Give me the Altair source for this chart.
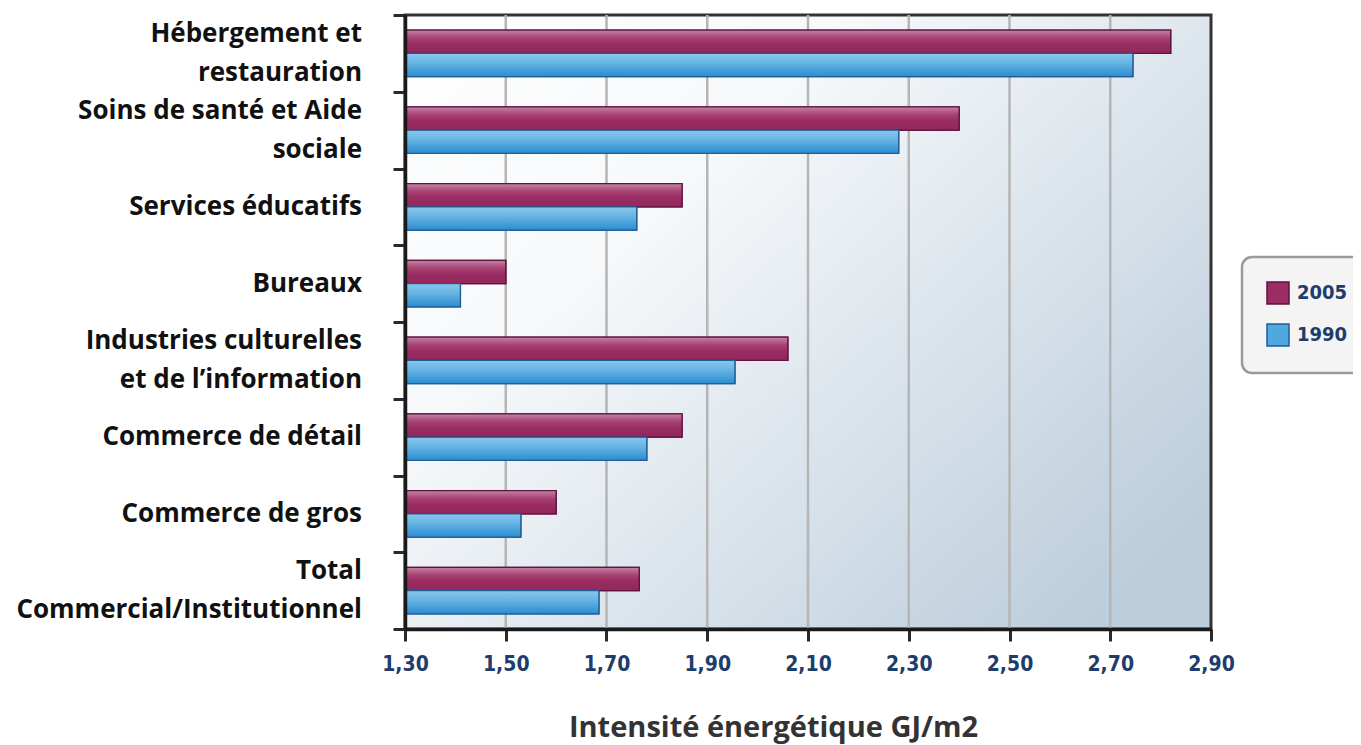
import altair as alt
import pandas as pd

categories = [
    "Hébergement et\nrestauration",
    "Soins de santé et Aide\nsociale",
    "Services éducatifs",
    "Bureaux",
    "Industries culturelles\net de l’information",
    "Commerce de détail",
    "Commerce de gros",
    "Total\nCommercial/Institutionnel",
]
years = ["2005", "1990"]
values_2005 = [2.82, 2.40, 1.85, 1.50, 2.06, 1.85, 1.60, 1.765]
values_1990 = [2.745, 2.28, 1.76, 1.41, 1.955, 1.78, 1.53, 1.685]
x_ticks = [1.30, 1.50, 1.70, 1.90, 2.10, 2.30, 2.50, 2.70, 2.90]
axis_title = "Intensité énergétique GJ/m2"

rows = []
for c, a, b in zip(categories, values_2005, values_1990):
    rows.append({"categorie": c, "annee": "2005", "valeur": a})
    rows.append({"categorie": c, "annee": "1990", "valeur": b})
df = pd.DataFrame(rows)
cat_df = pd.DataFrame({"categorie": categories})
grid_df = pd.DataFrame({"valeur": x_ticks[1:-1]})
bg_df = pd.DataFrame({"k": [0]})

W, H = 806, 614
TICK_FONT = "Liberation Sans Narrow, DejaVu Sans Condensed, Roboto, sans-serif"
BLUE_TXT = "#1f3d6b"

x_scale = alt.Scale(domain=[1.3, 2.9], nice=False, zero=False)
x_axis = alt.Axis(
    values=x_ticks,
    labelExpr="replace(format(datum.value, '.2f'), '.', ',')",
    grid=False, tickSize=12, tickWidth=3, tickColor="#2a2a2a",
    domainColor="#1a1a1a", domainWidth=3.5,
    labelFont=TICK_FONT, labelFontSize=21, labelFontWeight="bold",
    labelColor=BLUE_TXT, labelPadding=12, labelFlush=False, labelOverlap=False,
    title=axis_title, titleFont="Open Sans", titleFontSize=29,
    titleFontWeight="bold", titleColor="#333333",
    titleX=368, titleY=98, titleBaseline="middle", titleAlign="center",
    zindex=1,
)
x_enc = alt.X("valeur:Q", scale=x_scale, axis=x_axis, stack=None)

y_enc = alt.Y(
    "categorie:N", sort=categories,
    scale=alt.Scale(domain=categories, paddingInner=0, paddingOuter=0),
    axis=alt.Axis(
        title=None, tickBand="extent", tickSize=12, tickWidth=3,
        tickColor="#2a2a2a", domainColor="#1a1a1a", domainWidth=3.5,
        labels=False, grid=False, zindex=1,
    ),
)
yoff_enc = alt.YOffset(
    "annee:N", sort=years,
    scale=alt.Scale(domain=years, paddingInner=0, paddingOuter=0.645),
)

bg_grad = alt.LinearGradient(
    gradient="linear", x1=0, y1=0, x2=1, y2=0.8,
    stops=[
        alt.GradientStop(color="#ffffff", offset=0),
        alt.GradientStop(color="#f6f8fa", offset=0.35),
        alt.GradientStop(color="#bccddb", offset=1),
    ],
)
background = alt.Chart(bg_df).mark_rect(
    fill=bg_grad, stroke="#333333", strokeWidth=3
).encode(x=alt.value(0), x2=alt.value(W), y=alt.value(0), y2=alt.value(H))

grid = alt.Chart(grid_df).mark_rule(color="#b5b5b5", strokeWidth=2.5).encode(x=x_enc)

legend = alt.Legend(
    orient="none", legendX=837, legendY=242, title=None,
    symbolType="square", symbolSize=484, symbolStrokeWidth=1.5,
    padding=24, labelFont=TICK_FONT, labelFontSize=20, labelFontWeight="bold",
    labelColor=BLUE_TXT, labelOffset=7, rowPadding=14,
    fillColor="#f4f4f4", strokeColor="#9a9a9a", cornerRadius=10,
)
fill_colors = ["#9b2d64", "#4fa8df"]
stroke_colors = ["#5e1341", "#1e5d96"]

base_bars = alt.Chart(df).mark_bar(strokeWidth=1.3, clip=True).encode(
    x=x_enc, y=y_enc, yOffset=yoff_enc,
    fill=alt.Fill("annee:N", sort=years,
                  scale=alt.Scale(domain=years, range=fill_colors), legend=legend),
    stroke=alt.Stroke("annee:N", sort=years,
                      scale=alt.Scale(domain=years, range=stroke_colors), legend=legend),
)

grad_2005 = alt.LinearGradient(
    gradient="linear", x1=0, y1=0, x2=0, y2=1,
    stops=[
        alt.GradientStop(color="#c583a8", offset=0),
        alt.GradientStop(color="#a6416f", offset=0.35),
        alt.GradientStop(color="#9a2d63", offset=0.6),
        alt.GradientStop(color="#91275b", offset=1),
    ],
)
grad_1990 = alt.LinearGradient(
    gradient="linear", x1=0, y1=0, x2=0, y2=1,
    stops=[
        alt.GradientStop(color="#8ac8ec", offset=0),
        alt.GradientStop(color="#62b2e2", offset=0.45),
        alt.GradientStop(color="#2b8bd0", offset=1),
    ],
)

over_2005 = alt.Chart(df).transform_filter(alt.datum.annee == "2005").mark_bar(
    fill=grad_2005, stroke=stroke_colors[0], strokeWidth=1.3, clip=True
).encode(x=x_enc, y=y_enc, yOffset=yoff_enc)
over_1990 = alt.Chart(df).transform_filter(alt.datum.annee == "1990").mark_bar(
    fill=grad_1990, stroke=stroke_colors[1], strokeWidth=1.3, clip=True
).encode(x=x_enc, y=y_enc, yOffset=yoff_enc)

label_style = dict(align="right", baseline="middle", font="Open Sans",
                   fontSize=26, fontWeight="bold", color="#111111",
                   lineBreak="\n", lineHeight=39)
labels_one = alt.Chart(cat_df).transform_filter(
    "indexof(datum.categorie, '\\n') < 0"
).mark_text(**label_style).encode(
    x=alt.value(-43), y=y_enc, text="categorie:N"
)
labels_two = alt.Chart(cat_df).transform_filter(
    "indexof(datum.categorie, '\\n') >= 0"
).mark_text(dy=-19.5, **label_style).encode(
    x=alt.value(-43), y=y_enc, text="categorie:N"
)

chart = alt.layer(
    background, grid, base_bars, over_2005, over_1990, labels_one, labels_two
).properties(
    width=W, height=H,
    autosize=alt.AutoSizeParams(type="none"),
    padding={"left": 397, "top": 7, "right": 142, "bottom": 116},
    background="white",
).configure_view(stroke=None).configure_legend(strokeWidth=2.5)

chart.save("out.html", embed_options={"renderer": "svg", "actions": False})
